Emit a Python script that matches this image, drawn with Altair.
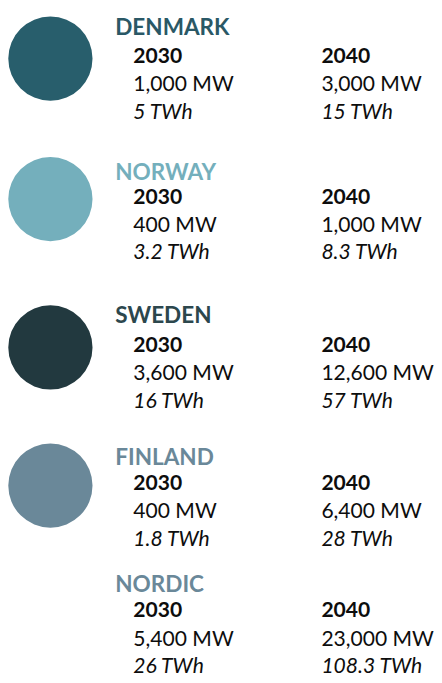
import altair as alt
import pandas as pd

# ---------------- data ----------------
countries = ["DENMARK", "NORWAY", "SWEDEN", "FINLAND", "NORDIC"]
years = ["2030", "2040"]
mw_2030 = [1000, 400, 3600, 400, 5400]
mw_2040 = [3000, 1000, 12600, 6400, 23000]
twh_2030 = ["5", "3.2", "16", "1.8", "26"]
twh_2040 = ["15", "8.3", "57", "28", "108.3"]
circle_countries = ["DENMARK", "NORWAY", "SWEDEN", "FINLAND"]

# ---------------- styles / layout ----------------
circle_colors = ["#285E6C", "#74AFBC", "#22393F", "#6A8899"]
title_colors = ["#2A5866", "#74AFBC", "#2C474D", "#6A8899", "#6A8899"]
W, H = 426, 667
M = 8  # page margin
title_base = [28.5, 176, 322, 467.5, 597]
year_base = [57, 200.5, 352, 493, 623]
line_gap = [0, 29, 57]
col_x = [136, 328]
title_x = 117.5
circle_x = 51.3
circle_dy = -4.5
FONT = "Lato"
FS = 21.5

# ---------------- tables ----------------
titles = pd.DataFrame({
    "country": countries,
    "x": [title_x - M] * len(countries),
    "y": [t - M for t in title_base],
})

yr_rows, mw_rows, twh_rows = [], [], []
mw = [mw_2030, mw_2040]
twh = [twh_2030, twh_2040]
for i, c in enumerate(countries):
    for j, yr in enumerate(years):
        x = col_x[j] - M
        yb = year_base[i] - M
        yr_rows.append({"x": x, "y": yb + line_gap[0], "text": yr})
        mw_rows.append({"x": x, "y": yb + line_gap[1], "text": f"{mw[j][i]:,} MW"})
        twh_rows.append({"x": x, "y": yb + line_gap[2], "text": f"{twh[j][i]} TWh"})

circles = pd.DataFrame({
    "country": circle_countries,
    "x": [circle_x - M] * len(circle_countries),
    "y": [year_base[countries.index(c)] + circle_dy - M for c in circle_countries],
})

xs = alt.Scale(domain=[0, W], nice=False, zero=False)
ys = alt.Scale(domain=[0, H], reverse=True, nice=False, zero=False)
X = alt.X("x:Q", scale=xs, axis=None)
Y = alt.Y("y:Q", scale=ys, axis=None)

circle_layer = alt.Chart(circles).mark_circle(size=7400, opacity=1).encode(
    x=X, y=Y,
    color=alt.Color("country:N", scale=alt.Scale(domain=circle_countries, range=circle_colors), legend=None),
)

title_layer = alt.Chart(titles).mark_text(
    align="left", baseline="alphabetic", font=FONT, fontSize=23, fontWeight="bold"
).encode(
    x=X, y=Y, text="country:N",
    color=alt.Color("country:N", scale=alt.Scale(domain=countries, range=title_colors), legend=None),
)

def text_layer(rows, weight="normal", style="normal"):
    return alt.Chart(pd.DataFrame(rows)).mark_text(
        align="left", baseline="alphabetic", font=FONT, fontSize=FS,
        fontWeight=weight, fontStyle=style, color="#0D0D0D",
    ).encode(x=X, y=Y, text="text:N")

chart = alt.layer(
    circle_layer,
    title_layer,
    text_layer(yr_rows, weight="bold"),
    text_layer(mw_rows),
    text_layer(twh_rows, style="italic"),
).resolve_scale(color="independent").properties(
    width=W, height=H, padding=0,
).configure_view(stroke=None)

chart.save("out.html", embed_options={"renderer": "svg", "actions": False})
